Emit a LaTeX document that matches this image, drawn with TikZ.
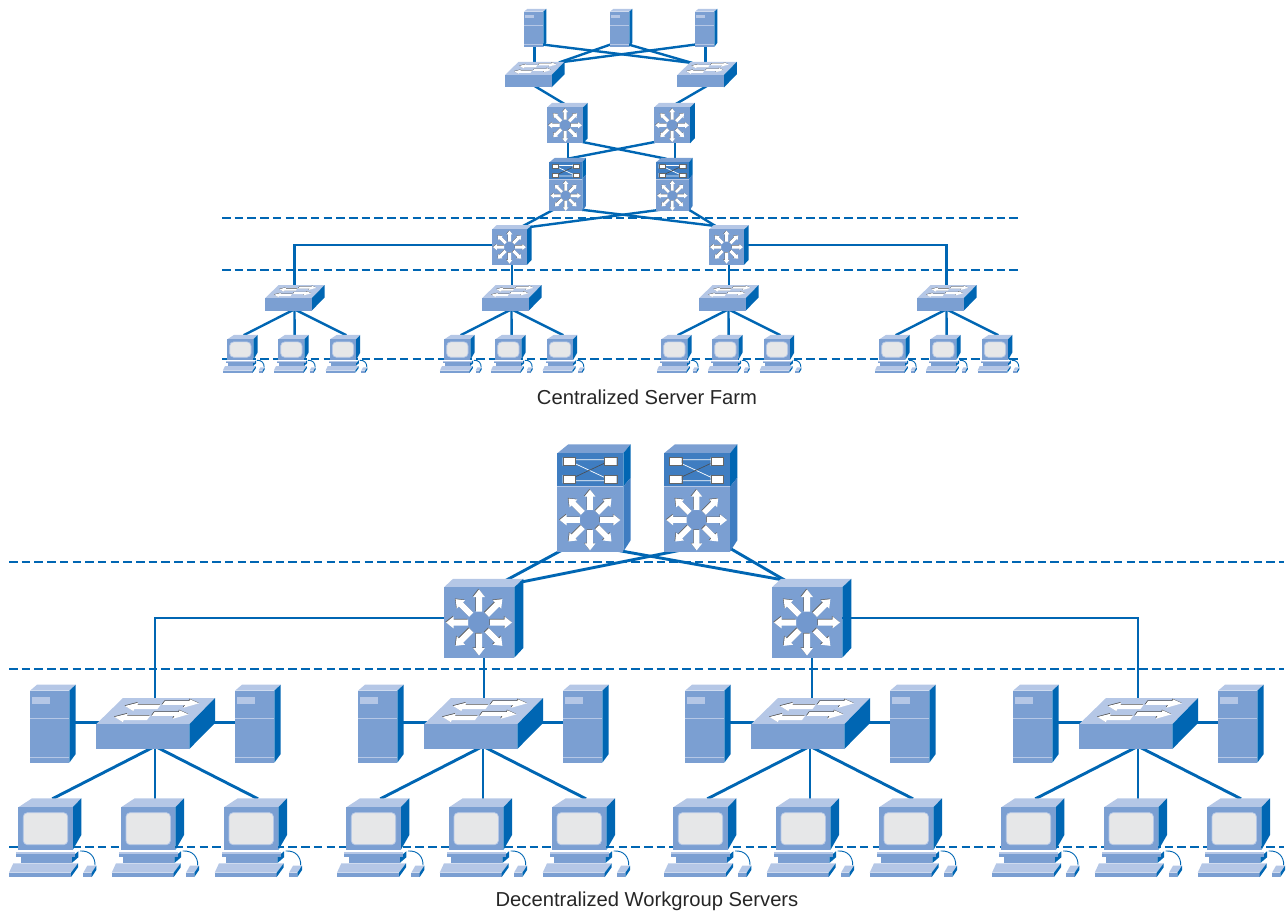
\documentclass[tikz,border=0pt]{standalone}
\usepackage{fontspec}
\setmainfont{Liberation Sans}
\usetikzlibrary{backgrounds}
\definecolor{netfront}{HTML}{7B9FD2}
\definecolor{nettop}{HTML}{B5C7E6}
\definecolor{netside}{HTML}{0066B3}
\definecolor{netmid}{HTML}{3F7DC1}
\definecolor{netcore}{HTML}{7298CE}
\definecolor{netscreen}{HTML}{E6E7E8}
\newcommand{\netrosette}{
  \fill[netcore] (0,0) circle (10.5);
  \foreach \a in {0,45,...,315} {
    \fill[black!60,shift={(-.7,-.7)},rotate=\a] (11,-3) -- (25.5,-3) -- (25.5,-5.9) -- (33,0) -- (25.5,5.9) -- (25.5,3) -- (11,3) -- cycle;
    \fill[white,rotate=\a] (11,-3) -- (25.5,-3) -- (25.5,-5.9) -- (33,0) -- (25.5,5.9) -- (25.5,3) -- (11,3) -- cycle;
  }
}
\tikzset{
  netserver/.pic={
    \fill[nettop] (0,0) -- (39.3,0) -- (45.7,-6) -- (7,-6) -- cycle;
    \fill[netside] (39.3,0) -- (45.7,-6) -- (45.7,63.3) -- (39.3,72) -- cycle;
    \fill[netfront] (0,0) rectangle (39.3,72);
    \fill[nettop] (2.3,6) rectangle (20,13);
    \draw[nettop,line width=.9] (0,27.6) -- (39.3,27.6) (0,66.3) -- (39.3,66.3);
    \coordinate (-b) at (21.8,68);
    \coordinate (-bl) at (1,67);
    \coordinate (-br) at (38,67);
    \coordinate (-e) at (40,32);
    \coordinate (-w) at (1,32);
  },
  netswitch/.pic={
    \fill[nettop] (0,0) -- (93.3,0) -- (119,-26.3) -- (27,-26.3) -- cycle;
    \fill[netside] (93.3,0) -- (119,-26.3) -- (119,-1.3) -- (93.3,24.7) -- cycle;
    \fill[netfront] (0,0) rectangle (93.3,24.7);
    \foreach \s in {0,1} {
      \begin{scope}[shift={(-10.5*\s,11*\s)}]
        \fill[black!70,shift={(-.5,-.6)}] (29,-18.3) -- (42.3,-21.7) -- (41.3,-19.6) -- (64.7,-19.6) -- (61.5,-15.3) -- (38.3,-15.3) -- (37.3,-13.2) -- cycle;
        \fill[white] (29,-18.3) -- (42.3,-21.7) -- (41.3,-19.6) -- (64.7,-19.6) -- (61.5,-15.3) -- (38.3,-15.3) -- (37.3,-13.2) -- cycle;
        \fill[black!70,shift={(-.5,-.6)}] (103,-21) -- (94,-25) -- (93.3,-23.3) -- (69,-23.3) -- (66.2,-19.4) -- (89,-19.4) -- (87.3,-16.5) -- cycle;
        \fill[white] (103,-21) -- (94,-25) -- (93.3,-23.3) -- (69,-23.3) -- (66.2,-19.4) -- (89,-19.4) -- (87.3,-16.5) -- cycle;
      \end{scope}
    }
    \coordinate (-t) at (59,-18);
    \coordinate (-tl) at (30,-24);
    \coordinate (-tr) at (108,-25);
    \coordinate (-b) at (59,22);
    \coordinate (-w) at (3,-1.6);
    \coordinate (-e) at (100,-1.6);
  },
  netrouter/.pic={
    \fill[nettop] (0,0) -- (70.3,0) -- (79.3,-8.5) -- (9,-8.5) -- cycle;
    \fill[netside] (70.3,0) -- (79.3,-8.5) -- (79.3,60.7) -- (70.3,70.4) -- cycle;
    \fill[netfront] (0,0) rectangle (70.3,70.4);
    \begin{scope}[shift={(35,35.2)}]
      \netrosette
    \end{scope}
    \coordinate (-t) at (38,-4);
    \coordinate (-b) at (40,68);
    \coordinate (-bl) at (1,68);
    \coordinate (-br) at (69,68);
    \coordinate (-l) at (2,30.7);
    \coordinate (-r) at (69,30.7);
    \coordinate (-ne) at (62,-7);
    \coordinate (-nw) at (13,-7);
    \coordinate (-ee) at (76,-5);
  },
  netstack/.pic={
    \fill[netfront] (0,0) -- (66,0) -- (73.3,-9) -- (11,-9) -- cycle;
    \fill[netside] (66,0) -- (73.3,-9) -- (73.3,24.4) -- (66,33.4) -- cycle;
    \fill[netmid] (66,33.4) -- (73.3,24.4) -- (73.3,87) -- (66,98.4) -- cycle;
    \fill[netmid] (0,0) rectangle (66,33.4);
    \fill[netfront] (0,33.4) rectangle (66,98.4);
    \draw[nettop,line width=.5] (0,33.4) -- (66,33.4);
    \draw[white,line width=.7] (17,6.5) -- (47,6.5) (17,27.5) -- (47,27.5) (17,10) -- (47,24);
    \draw[black!70,line width=.6] (17,24) -- (47,10);
    \draw[black!60,line width=.3,fill=white] (5.4,4.3) rectangle (17.7,12.3) (46.7,4.3) rectangle (59.4,12.3) (5.4,21.7) rectangle (17.7,29.7) (46.7,21.7) rectangle (59.4,29.7);
    \begin{scope}[shift={(32.7,66.7)},scale=.92]
      \netrosette
    \end{scope}
    \coordinate (-t) at (36,-7);
    \coordinate (-tl) at (21,-7);
    \coordinate (-b1) at (8,95);
    \coordinate (-b2) at (26,95);
    \coordinate (-b3) at (49,95);
    \coordinate (-b4) at (66,95);
  },
  netpc/.pic={
    \draw[netside,line width=.9] (61.7,43.7) .. controls (72,43) and (77,50) .. (76.7,58);
    \fill[netside] (53.4,49.7) -- (60,44) -- (60,50) -- (53.4,55.7) -- cycle;
    \fill[nettop] (-2.3,44.4) -- (56.7,44.4) -- (56.7,47) -- (-2.3,47) -- cycle;
    \fill[netfront] (-2.3,47) rectangle (56.7,49.7);
    \fill[netfront] (2.4,49.7) rectangle (53.4,55.7);
    \fill[nettop] (0,0) -- (54.4,0) -- (63,-9) -- (13.7,-9) -- cycle;
    \fill[netside] (54.4,0) -- (63,-9) -- (63,27.7) -- (54.4,42.7) -- cycle;
    \fill[netfront] (0,0) rectangle (54.4,42.7);
    \draw[nettop,line width=.7,fill=netscreen,rounded corners=4] (5,5.4) rectangle (49.4,37.4);
    \fill[nettop] (-9.3,65.4) -- (52.7,65.4) -- (59.7,56) -- (-5,56) -- cycle;
    \fill[netfront] (-9.3,65.4) rectangle (52.7,69.7);
    \fill[netside] (52.7,65.4) -- (59.7,56) -- (59.7,60) -- (52.7,69.7) -- cycle;
    \fill[nettop] (65,65.4) -- (73.4,65.4) -- (78,58.4) -- (69,58.4) -- cycle;
    \fill[netfront] (65,65.4) rectangle (73.4,69.7);
    \fill[netside] (73.4,65.4) -- (78,58.4) -- (78,62.7) -- (73.4,69.7) -- cycle;
    \coordinate (-t) at (34,-8.5);
  }
}
\begin{document}
\begin{tikzpicture}[x=1pt,y=-1pt]
\tikzstyle{link}=[netside,line width=2.9]
\tikzstyle{thinlink}=[netside,line width=2.4]
\tikzstyle{zone}=[netside,line width=2,dash pattern=on 8.5pt off 4.2pt]
\tikzstyle{caption}=[anchor=base,font=\fontsize{20.2}{24}\selectfont,text=black!85]

\useasboundingbox (0,0) rectangle (1288,912);

\pic (srv1) [scale=.49] at (524,11.7) {netserver};
\pic (srv2) [scale=.49] at (610,11.7) {netserver};
\pic (srv3) [scale=.49] at (695,11.7) {netserver};
\pic (acc1) [scale=.5] at (505,75) {netswitch};
\pic (acc2) [scale=.5] at (677.3,75) {netswitch};
\pic (mid1) [scale=.51] at (547.3,107.3) {netrouter};
\pic (mid2) [scale=.51] at (654.3,107.3) {netrouter};
\pic (core1) [scale=.5] at (549.3,162.3) {netstack};
\pic (core2) [scale=.5] at (656,162.3) {netstack};
\pic (dist1) [scale=.5] at (492,229.5) {netrouter};
\pic (dist2) [scale=.5] at (709,229.5) {netrouter};

\foreach \g/\x in {1/265,2/482,3/699,4/917} {
  \pic (up\g) [scale=.5] at (\x,298.3) {netswitch};
  \pic (upa\g) [scale=.48] at (\x-37.7,339.3) {netpc};
  \pic (upb\g) [scale=.48] at (\x+13.3,339.3) {netpc};
  \pic (upc\g) [scale=.48] at (\x+65,339.3) {netpc};
}

\pic (top1) at (557.3,453.3) {netstack};
\pic (top2) at (664,453.3) {netstack};
\pic (rtr1) at (444,587.3) {netrouter};
\pic (rtr2) at (772,587.3) {netrouter};

\foreach \g/\x in {1/96,2/424,3/751,4/1079} {
  \pic (sw\g) at (\x,724.3) {netswitch};
  \pic (sl\g) at (\x-66,690.7) {netserver};
  \pic (sr\g) at (\x+139,690.7) {netserver};
  \pic (pa\g) at (\x-77.7,807.3) {netpc};
  \pic (pb\g) at (\x+25,807.3) {netpc};
  \pic (pc\g) at (\x+128,807.3) {netpc};
}

\node[caption] (farm) at (647,404) {Centralized Server Farm};
\node[caption] (group) at (647,906) {Decentralized Workgroup Servers};

\begin{scope}[on background layer]
\coordinate (za) at (222,218);
\coordinate (zb) at (1020,218);
\coordinate (zc) at (222,270);
\coordinate (zd) at (1020,270);
\coordinate (ze) at (222,359);
\coordinate (zf) at (1020,359);
\coordinate (zg) at (9,562);
\coordinate (zh) at (1284,562);
\coordinate (zi) at (9,669);
\coordinate (zj) at (1284,669);
\coordinate (zk) at (9,847);
\coordinate (zl) at (1284,847);
\path
  (za) edge [zone] (zb)
  (zc) edge [zone] (zd)
  (ze) edge [zone] (zf)
  (zg) edge [zone] (zh)
  (zi) edge [zone] (zj)
  (zk) edge [zone] (zl);

\path
  (srv1-b) edge [thinlink] (srv1-b |- acc1-t)
  (srv1-br) edge [thinlink] (acc2-tl)
  (srv2-bl) edge [thinlink] (acc1-tr)
  (srv2-br) edge [thinlink] (acc2-tl)
  (srv3-bl) edge [thinlink] (acc1-tr)
  (srv3-b) edge [thinlink] (srv3-b |- acc2-t)
  (acc1-b) edge [thinlink] (mid1-t)
  (acc2-b) edge [thinlink] (mid2-t)
  (mid1-b) edge [thinlink] (mid1-b |- core1-t)
  (mid1-br) edge [thinlink] (core2-tl)
  (mid2-bl) edge [thinlink] (core1-t)
  (mid2-b) edge [thinlink] (mid2-b |- core2-t)
  (core1-b1) edge [thinlink] (dist1-ne)
  (core1-b4) edge [thinlink] (dist2-nw)
  (core2-b1) edge [thinlink] (dist1-ee)
  (core2-b4) edge [thinlink] (dist2-nw)
  (dist1-b) edge [thinlink] (dist1-b |- up2-t)
  (dist2-b) edge [thinlink] (dist2-b |- up3-t);
\draw[thinlink] (dist1-l) -| (up1-t);
\draw[thinlink] (dist2-r) -| (up4-t);

\foreach \g in {1,2,3,4} {
  \path
    (up\g-b) edge [thinlink] (upa\g-t)
    (up\g-b) edge [thinlink] (upb\g-t)
    (up\g-b) edge [thinlink] (upc\g-t);
}

\path
  (top1-b1) edge [link] (rtr1-ne)
  (top1-b3) edge [link] (rtr2-nw)
  (top2-b2) edge [link] (rtr1-ee)
  (top2-b4) edge [link] (rtr2-nw)
  (rtr1-b) edge [link] (rtr1-b |- sw2-t)
  (rtr2-b) edge [link] (rtr2-b |- sw3-t);
\draw[link] (rtr1-l) -| (sw1-t);
\draw[link] (rtr2-r) -| (sw4-t);

\foreach \g in {1,2,3,4} {
  \path
    (sl\g-e) edge [link] (sw\g-w)
    (sw\g-e) edge [link] (sr\g-w)
    (sw\g-b) edge [link] (pa\g-t)
    (sw\g-b) edge [link] (pb\g-t)
    (sw\g-b) edge [link] (pc\g-t);
}
\end{scope}
\end{tikzpicture}
\end{document}
